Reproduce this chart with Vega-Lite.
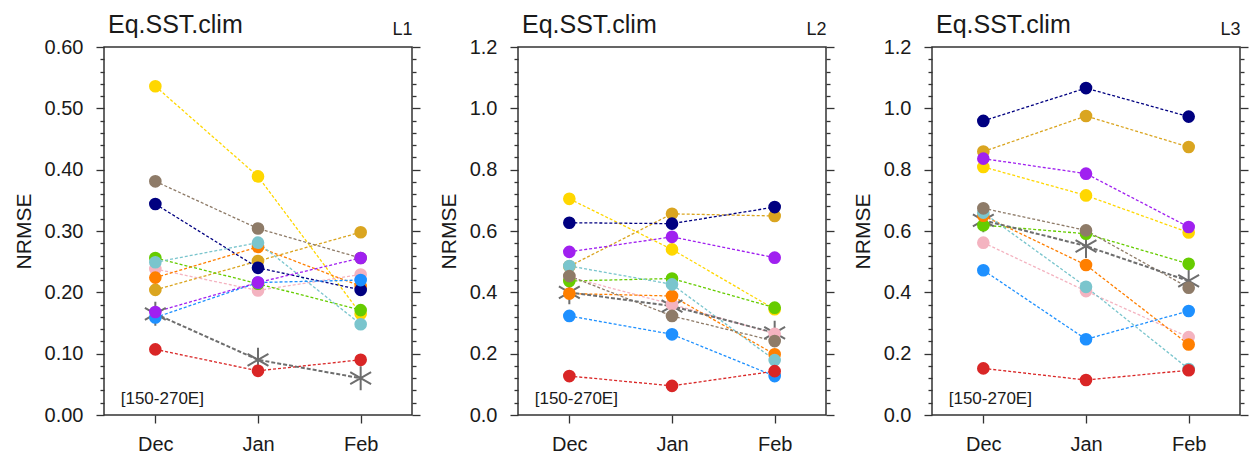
{
  "$schema": "https://vega.github.io/schema/vega-lite/v6.json",
  "autosize": {"type": "pad"},
  "padding": {"left": 12, "top": 12, "right": 0, "bottom": 0},
  "bounds": "flush",
  "spacing": 106,
  "background": "white",
  "config": {
    "view": {"stroke": "#333333", "strokeWidth": 1.5},
    "font": "Liberation Sans",
    "axis": {
      "domain": false, "grid": false,
      "labelFont": "Liberation Sans", "titleFont": "Liberation Sans",
      "labelFontSize": 20, "titleFontSize": 21, "titleFontWeight": "normal",
      "labelColor": "#1a1a1a", "titleColor": "#1a1a1a",
      "tickColor": "#333333", "tickWidth": 1.3, "labelOverlap": false
    },
    "title": {"font": "Liberation Sans", "fontWeight": "normal", "fontSize": 25, "color": "#1a1a1a", "anchor": "start", "frame": "group", "offset": -18, "baseline": "alphabetic", "dx": 4}
  },
  "datasets": {
    "d": [
      {"panel":"L1","model":"M1","month":"Dec","value":0.536},{"panel":"L1","model":"M1","month":"Jan","value":0.389},{"panel":"L1","model":"M1","month":"Feb","value":0.165},
      {"panel":"L1","model":"M2","month":"Dec","value":0.204},{"panel":"L1","model":"M2","month":"Jan","value":0.251},{"panel":"L1","model":"M2","month":"Feb","value":0.298},
      {"panel":"L1","model":"M3","month":"Dec","value":0.238},{"panel":"L1","model":"M3","month":"Jan","value":0.203},{"panel":"L1","model":"M3","month":"Feb","value":0.229},
      {"panel":"L1","model":"M4","month":"Dec","value":0.256},{"panel":"L1","model":"M4","month":"Jan","value":0.214},{"panel":"L1","model":"M4","month":"Feb","value":0.171},
      {"panel":"L1","model":"M5","month":"Dec","value":0.224},{"panel":"L1","model":"M5","month":"Jan","value":0.274},{"panel":"L1","model":"M5","month":"Feb","value":0.210},
      {"panel":"L1","model":"M6","month":"Dec","value":0.249},{"panel":"L1","model":"M6","month":"Jan","value":0.281},{"panel":"L1","model":"M6","month":"Feb","value":0.148},
      {"panel":"L1","model":"M7","month":"Dec","value":0.344},{"panel":"L1","model":"M7","month":"Jan","value":0.240},{"panel":"L1","model":"M7","month":"Feb","value":0.204},
      {"panel":"L1","model":"M8","month":"Dec","value":0.381},{"panel":"L1","model":"M8","month":"Jan","value":0.304},{"panel":"L1","model":"M8","month":"Feb","value":0.256},
      {"panel":"L1","model":"M9","month":"Dec","value":0.159},{"panel":"L1","model":"M9","month":"Jan","value":0.216},{"panel":"L1","model":"M9","month":"Feb","value":0.220},
      {"panel":"L1","model":"M10","month":"Dec","value":0.107},{"panel":"L1","model":"M10","month":"Jan","value":0.072},{"panel":"L1","model":"M10","month":"Feb","value":0.090},
      {"panel":"L1","model":"M11","month":"Dec","value":0.168},{"panel":"L1","model":"M11","month":"Jan","value":0.216},{"panel":"L1","model":"M11","month":"Feb","value":0.256},
      {"panel":"L1","model":"MME","month":"Dec","value":0.165},{"panel":"L1","model":"MME","month":"Jan","value":0.090},{"panel":"L1","model":"MME","month":"Feb","value":0.060},

      {"panel":"L2","model":"M1","month":"Dec","value":0.705},{"panel":"L2","model":"M1","month":"Jan","value":0.540},{"panel":"L2","model":"M1","month":"Feb","value":0.345},
      {"panel":"L2","model":"M2","month":"Dec","value":0.485},{"panel":"L2","model":"M2","month":"Jan","value":0.656},{"panel":"L2","model":"M2","month":"Feb","value":0.649},
      {"panel":"L2","model":"M3","month":"Dec","value":0.450},{"panel":"L2","model":"M3","month":"Jan","value":0.361},{"panel":"L2","model":"M3","month":"Feb","value":0.265},
      {"panel":"L2","model":"M4","month":"Dec","value":0.437},{"panel":"L2","model":"M4","month":"Jan","value":0.445},{"panel":"L2","model":"M4","month":"Feb","value":0.350},
      {"panel":"L2","model":"M5","month":"Dec","value":0.396},{"panel":"L2","model":"M5","month":"Jan","value":0.388},{"panel":"L2","model":"M5","month":"Feb","value":0.198},
      {"panel":"L2","model":"M6","month":"Dec","value":0.486},{"panel":"L2","model":"M6","month":"Jan","value":0.426},{"panel":"L2","model":"M6","month":"Feb","value":0.179},
      {"panel":"L2","model":"M7","month":"Dec","value":0.627},{"panel":"L2","model":"M7","month":"Jan","value":0.624},{"panel":"L2","model":"M7","month":"Feb","value":0.678},
      {"panel":"L2","model":"M8","month":"Dec","value":0.453},{"panel":"L2","model":"M8","month":"Jan","value":0.323},{"panel":"L2","model":"M8","month":"Feb","value":0.241},
      {"panel":"L2","model":"M9","month":"Dec","value":0.323},{"panel":"L2","model":"M9","month":"Jan","value":0.263},{"panel":"L2","model":"M9","month":"Feb","value":0.127},
      {"panel":"L2","model":"M10","month":"Dec","value":0.127},{"panel":"L2","model":"M10","month":"Jan","value":0.095},{"panel":"L2","model":"M10","month":"Feb","value":0.143},
      {"panel":"L2","model":"M11","month":"Dec","value":0.532},{"panel":"L2","model":"M11","month":"Jan","value":0.581},{"panel":"L2","model":"M11","month":"Feb","value":0.513},
      {"panel":"L2","model":"MME","month":"Dec","value":0.400},{"panel":"L2","model":"MME","month":"Jan","value":0.355},{"panel":"L2","model":"MME","month":"Feb","value":0.268},

      {"panel":"L3","model":"M1","month":"Dec","value":0.809},{"panel":"L3","model":"M1","month":"Jan","value":0.716},{"panel":"L3","model":"M1","month":"Feb","value":0.595},
      {"panel":"L3","model":"M2","month":"Dec","value":0.859},{"panel":"L3","model":"M2","month":"Jan","value":0.975},{"panel":"L3","model":"M2","month":"Feb","value":0.874},
      {"panel":"L3","model":"M3","month":"Dec","value":0.562},{"panel":"L3","model":"M3","month":"Jan","value":0.404},{"panel":"L3","model":"M3","month":"Feb","value":0.254},
      {"panel":"L3","model":"M4","month":"Dec","value":0.619},{"panel":"L3","model":"M4","month":"Jan","value":0.591},{"panel":"L3","model":"M4","month":"Feb","value":0.493},
      {"panel":"L3","model":"M5","month":"Dec","value":0.650},{"panel":"L3","model":"M5","month":"Jan","value":0.489},{"panel":"L3","model":"M5","month":"Feb","value":0.230},
      {"panel":"L3","model":"M6","month":"Dec","value":0.660},{"panel":"L3","model":"M6","month":"Jan","value":0.418},{"panel":"L3","model":"M6","month":"Feb","value":0.150},
      {"panel":"L3","model":"M7","month":"Dec","value":0.959},{"panel":"L3","model":"M7","month":"Jan","value":1.066},{"panel":"L3","model":"M7","month":"Feb","value":0.973},
      {"panel":"L3","model":"M8","month":"Dec","value":0.674},{"panel":"L3","model":"M8","month":"Jan","value":0.602},{"panel":"L3","model":"M8","month":"Feb","value":0.415},
      {"panel":"L3","model":"M9","month":"Dec","value":0.472},{"panel":"L3","model":"M9","month":"Jan","value":0.247},{"panel":"L3","model":"M9","month":"Feb","value":0.339},
      {"panel":"L3","model":"M10","month":"Dec","value":0.152},{"panel":"L3","model":"M10","month":"Jan","value":0.114},{"panel":"L3","model":"M10","month":"Feb","value":0.146},
      {"panel":"L3","model":"M11","month":"Dec","value":0.836},{"panel":"L3","model":"M11","month":"Jan","value":0.787},{"panel":"L3","model":"M11","month":"Feb","value":0.613},
      {"panel":"L3","model":"MME","month":"Dec","value":0.635},{"panel":"L3","model":"MME","month":"Jan","value":0.551},{"panel":"L3","model":"MME","month":"Feb","value":0.437}
    ]
  },
  "hconcat": [
    {
      "width": 308, "height": 368,
      "title": {"text": "Eq.SST.clim"},
      "data": {"name": "d"},
      "transform": [{"filter": "datum.panel === 'L1'"}],
      "layer": [
        {
          "transform": [{"filter": "datum.model !== 'MME'"}],
          "mark": {"type": "line", "strokeDash": [3, 2], "strokeWidth": 1.3},
          "encoding": {
            "x": {"field": "month", "type": "ordinal", "scale": {"type": "point", "padding": 0.5, "domain": ["Dec", "Jan", "Feb"]}, "axis": {"orient": "bottom", "title": null, "tickSize": 8, "labelPadding": 11, "labelAngle": 0}},
            "y": {"field": "value", "type": "quantitative", "scale": {"domain": [0, 0.6], "nice": false, "zero": false},
              "axis": {"orient": "left", "title": "NRMSE", "values": [0,0.02,0.04,0.06,0.08,0.1,0.12,0.14,0.16,0.18,0.2,0.22,0.24,0.26,0.28,0.3,0.32,0.34,0.36,0.38,0.4,0.42,0.44,0.46,0.48,0.5,0.52,0.54,0.56,0.58,0.6],
                "labelExpr": "abs(datum.value*10-round(datum.value*10))<0.001 ? format(datum.value,'.2f') : ''",
                "tickSize": {"condition": {"test": "abs(datum.value*10-round(datum.value*10))<0.001", "value": 8}, "value": 4},
                "labelPadding": 13, "titlePadding": 10}},
            "color": {"field": "model", "type": "nominal", "legend": null,
              "scale": {"domain": ["M1","M2","M3","M4","M5","M6","M7","M8","M9","M10","M11"],
                "range": ["#FFD700","#DAA520","#F4B3C0","#66CC00","#FF7F00","#7AC5CD","#000080","#8E7B68","#1E90FF","#D92626","#A020F0"]}}
          }
        },
        {
          "transform": [{"filter": "datum.model === 'MME'"}],
          "mark": {"type": "line", "strokeDash": [4, 2], "strokeWidth": 2, "color": "#6E6E6E"},
          "encoding": {
            "x": {"field": "month", "type": "ordinal", "axis": null},
            "y": {"field": "value", "type": "quantitative", "axis": null}
          }
        },
        {
          "transform": [{"filter": "datum.model === 'MME'"}],
          "mark": {"type": "point", "shape": "M0,-1L0,1M-0.87,-0.5L0.87,0.5M-0.87,0.5L0.87,-0.5", "size": 576, "filled": false, "stroke": "#6E6E6E", "strokeWidth": 2, "opacity": 1},
          "encoding": {
            "x": {"field": "month", "type": "ordinal", "axis": null},
            "y": {"field": "value", "type": "quantitative", "axis": null}
          }
        },
        {
          "transform": [{"filter": "datum.model !== 'MME'"}],
          "mark": {"type": "point", "shape": "circle", "filled": true, "size": 160, "opacity": 1},
          "encoding": {
            "x": {"field": "month", "type": "ordinal", "axis": {"orient": "top", "labels": false, "ticks": false, "title": "L1", "titleAnchor": "end", "titleFontSize": 18, "titlePadding": 13, "titleBaseline": "alphabetic"}},
            "y": {"field": "value", "type": "quantitative",
              "axis": {"orient": "right", "title": null, "labels": false, "values": [0,0.02,0.04,0.06,0.08,0.1,0.12,0.14,0.16,0.18,0.2,0.22,0.24,0.26,0.28,0.3,0.32,0.34,0.36,0.38,0.4,0.42,0.44,0.46,0.48,0.5,0.52,0.54,0.56,0.58,0.6],
                "tickSize": {"condition": {"test": "abs(datum.value*10-round(datum.value*10))<0.001", "value": 8}, "value": 4}}},
            "color": {"field": "model", "type": "nominal", "legend": null}
          }
        },
        {
          "data": {"values": [{"label": "[150-270E]", "month": "Dec", "value": 0.018}]},
          "mark": {"type": "text", "fontSize": 17, "align": "center", "baseline": "alphabetic", "dx": 7, "color": "#1a1a1a", "font": "Liberation Sans"},
          "encoding": {
            "x": {"field": "month", "type": "ordinal", "axis": null},
            "y": {"field": "value", "type": "quantitative", "axis": null},
            "text": {"field": "label"}
          }
        }
      ],
      "resolve": {"axis": {"x": "independent", "y": "independent"}}
    },
    {
      "width": 308, "height": 368,
      "title": {"text": "Eq.SST.clim"},
      "data": {"name": "d"},
      "transform": [{"filter": "datum.panel === 'L2'"}],
      "layer": [
        {
          "transform": [{"filter": "datum.model !== 'MME'"}],
          "mark": {"type": "line", "strokeDash": [3, 2], "strokeWidth": 1.3},
          "encoding": {
            "x": {"field": "month", "type": "ordinal", "scale": {"type": "point", "padding": 0.5, "domain": ["Dec", "Jan", "Feb"]}, "axis": {"orient": "bottom", "title": null, "tickSize": 8, "labelPadding": 11, "labelAngle": 0}},
            "y": {"field": "value", "type": "quantitative", "scale": {"domain": [0, 1.2], "nice": false, "zero": false},
              "axis": {"orient": "left", "title": "NRMSE", "values": [0,0.04,0.08,0.12,0.16,0.2,0.24,0.28,0.32,0.36,0.4,0.44,0.48,0.52,0.56,0.6,0.64,0.68,0.72,0.76,0.8,0.84,0.88,0.92,0.96,1,1.04,1.08,1.12,1.16,1.2],
                "labelExpr": "abs(datum.value*5-round(datum.value*5))<0.001 ? format(datum.value,'.1f') : ''",
                "tickSize": {"condition": {"test": "abs(datum.value*5-round(datum.value*5))<0.001", "value": 8}, "value": 4},
                "labelPadding": 13, "titlePadding": 10}},
            "color": {"field": "model", "type": "nominal", "legend": null,
              "scale": {"domain": ["M1","M2","M3","M4","M5","M6","M7","M8","M9","M10","M11"],
                "range": ["#FFD700","#DAA520","#F4B3C0","#66CC00","#FF7F00","#7AC5CD","#000080","#8E7B68","#1E90FF","#D92626","#A020F0"]}}
          }
        },
        {
          "transform": [{"filter": "datum.model === 'MME'"}],
          "mark": {"type": "line", "strokeDash": [4, 2], "strokeWidth": 2, "color": "#6E6E6E"},
          "encoding": {
            "x": {"field": "month", "type": "ordinal", "axis": null},
            "y": {"field": "value", "type": "quantitative", "axis": null}
          }
        },
        {
          "transform": [{"filter": "datum.model === 'MME'"}],
          "mark": {"type": "point", "shape": "M0,-1L0,1M-0.87,-0.5L0.87,0.5M-0.87,0.5L0.87,-0.5", "size": 576, "filled": false, "stroke": "#6E6E6E", "strokeWidth": 2, "opacity": 1},
          "encoding": {
            "x": {"field": "month", "type": "ordinal", "axis": null},
            "y": {"field": "value", "type": "quantitative", "axis": null}
          }
        },
        {
          "transform": [{"filter": "datum.model !== 'MME'"}],
          "mark": {"type": "point", "shape": "circle", "filled": true, "size": 160, "opacity": 1},
          "encoding": {
            "x": {"field": "month", "type": "ordinal", "axis": {"orient": "top", "labels": false, "ticks": false, "title": "L2", "titleAnchor": "end", "titleFontSize": 18, "titlePadding": 13, "titleBaseline": "alphabetic"}},
            "y": {"field": "value", "type": "quantitative",
              "axis": {"orient": "right", "title": null, "labels": false, "values": [0,0.04,0.08,0.12,0.16,0.2,0.24,0.28,0.32,0.36,0.4,0.44,0.48,0.52,0.56,0.6,0.64,0.68,0.72,0.76,0.8,0.84,0.88,0.92,0.96,1,1.04,1.08,1.12,1.16,1.2],
                "tickSize": {"condition": {"test": "abs(datum.value*5-round(datum.value*5))<0.001", "value": 8}, "value": 4}}},
            "color": {"field": "model", "type": "nominal", "legend": null}
          }
        },
        {
          "data": {"values": [{"label": "[150-270E]", "month": "Dec", "value": 0.036}]},
          "mark": {"type": "text", "fontSize": 17, "align": "center", "baseline": "alphabetic", "dx": 7, "color": "#1a1a1a", "font": "Liberation Sans"},
          "encoding": {
            "x": {"field": "month", "type": "ordinal", "axis": null},
            "y": {"field": "value", "type": "quantitative", "axis": null},
            "text": {"field": "label"}
          }
        }
      ],
      "resolve": {"axis": {"x": "independent", "y": "independent"}}
    },
    {
      "width": 308, "height": 368,
      "title": {"text": "Eq.SST.clim"},
      "data": {"name": "d"},
      "transform": [{"filter": "datum.panel === 'L3'"}],
      "layer": [
        {
          "transform": [{"filter": "datum.model !== 'MME'"}],
          "mark": {"type": "line", "strokeDash": [3, 2], "strokeWidth": 1.3},
          "encoding": {
            "x": {"field": "month", "type": "ordinal", "scale": {"type": "point", "padding": 0.5, "domain": ["Dec", "Jan", "Feb"]}, "axis": {"orient": "bottom", "title": null, "tickSize": 8, "labelPadding": 11, "labelAngle": 0}},
            "y": {"field": "value", "type": "quantitative", "scale": {"domain": [0, 1.2], "nice": false, "zero": false},
              "axis": {"orient": "left", "title": "NRMSE", "values": [0,0.04,0.08,0.12,0.16,0.2,0.24,0.28,0.32,0.36,0.4,0.44,0.48,0.52,0.56,0.6,0.64,0.68,0.72,0.76,0.8,0.84,0.88,0.92,0.96,1,1.04,1.08,1.12,1.16,1.2],
                "labelExpr": "abs(datum.value*5-round(datum.value*5))<0.001 ? format(datum.value,'.1f') : ''",
                "tickSize": {"condition": {"test": "abs(datum.value*5-round(datum.value*5))<0.001", "value": 8}, "value": 4},
                "labelPadding": 13, "titlePadding": 10}},
            "color": {"field": "model", "type": "nominal", "legend": null,
              "scale": {"domain": ["M1","M2","M3","M4","M5","M6","M7","M8","M9","M10","M11"],
                "range": ["#FFD700","#DAA520","#F4B3C0","#66CC00","#FF7F00","#7AC5CD","#000080","#8E7B68","#1E90FF","#D92626","#A020F0"]}}
          }
        },
        {
          "transform": [{"filter": "datum.model === 'MME'"}],
          "mark": {"type": "line", "strokeDash": [4, 2], "strokeWidth": 2, "color": "#6E6E6E"},
          "encoding": {
            "x": {"field": "month", "type": "ordinal", "axis": null},
            "y": {"field": "value", "type": "quantitative", "axis": null}
          }
        },
        {
          "transform": [{"filter": "datum.model === 'MME'"}],
          "mark": {"type": "point", "shape": "M0,-1L0,1M-0.87,-0.5L0.87,0.5M-0.87,0.5L0.87,-0.5", "size": 576, "filled": false, "stroke": "#6E6E6E", "strokeWidth": 2, "opacity": 1},
          "encoding": {
            "x": {"field": "month", "type": "ordinal", "axis": null},
            "y": {"field": "value", "type": "quantitative", "axis": null}
          }
        },
        {
          "transform": [{"filter": "datum.model !== 'MME'"}],
          "mark": {"type": "point", "shape": "circle", "filled": true, "size": 160, "opacity": 1},
          "encoding": {
            "x": {"field": "month", "type": "ordinal", "axis": {"orient": "top", "labels": false, "ticks": false, "title": "L3", "titleAnchor": "end", "titleFontSize": 18, "titlePadding": 13, "titleBaseline": "alphabetic"}},
            "y": {"field": "value", "type": "quantitative",
              "axis": {"orient": "right", "title": null, "labels": false, "values": [0,0.04,0.08,0.12,0.16,0.2,0.24,0.28,0.32,0.36,0.4,0.44,0.48,0.52,0.56,0.6,0.64,0.68,0.72,0.76,0.8,0.84,0.88,0.92,0.96,1,1.04,1.08,1.12,1.16,1.2],
                "tickSize": {"condition": {"test": "abs(datum.value*5-round(datum.value*5))<0.001", "value": 8}, "value": 4}}},
            "color": {"field": "model", "type": "nominal", "legend": null}
          }
        },
        {
          "data": {"values": [{"label": "[150-270E]", "month": "Dec", "value": 0.036}]},
          "mark": {"type": "text", "fontSize": 17, "align": "center", "baseline": "alphabetic", "dx": 7, "color": "#1a1a1a", "font": "Liberation Sans"},
          "encoding": {
            "x": {"field": "month", "type": "ordinal", "axis": null},
            "y": {"field": "value", "type": "quantitative", "axis": null},
            "text": {"field": "label"}
          }
        }
      ],
      "resolve": {"axis": {"x": "independent", "y": "independent"}}
    }
  ]
}
